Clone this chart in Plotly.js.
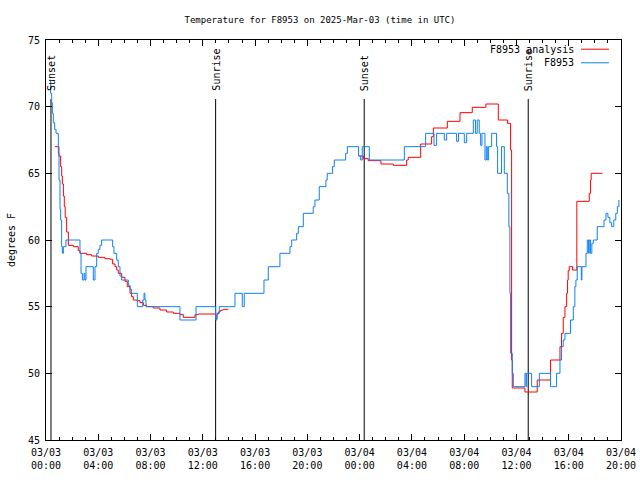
<!DOCTYPE html>
<html>
<head>
<meta charset="utf-8">
<script src="https://cdn.plot.ly/plotly-3.0.1.min.js"></script>
<style>html,body{margin:0;padding:0;background:#fff;}#chart{width:640px;height:480px;}</style>
</head>
<body>
<div id="chart"></div>
<script>
// Hours since 2025-03-03 00:00 UTC
const analysisHours = [0.69,0.99,1.12,1.20,1.25,1.33,1.40,1.47,1.58,1.71,2.09,2.47,2.60,3.11,3.49,4.00,4.51,4.90,5.10,5.28,5.41,5.53,5.79,6.04,6.22,6.43,6.55,6.68,6.94,7.19,7.45,7.70,8.21,8.72,9.23,9.74,10.25,10.51,11.40,11.65,12.98,13.08,13.19,13.31,13.44,13.57,13.95,19.0,23.97,24.28,24.66,25.63,26.58,27.60,27.72,28.67,29.51,29.64,30.71,31.68,32.62,33.66,34.61,35.32,35.55,35.63,35.68,36.65,37.59,38.61,39.33,39.45,39.58,39.71,39.84,39.91,39.96,40.04,40.29,40.62,41.57,41.67,41.72,42.59];
const analysisTemps = [67.0,66.3,65.5,64.8,64.2,63.3,62.5,61.7,60.6,59.6,59.5,59.2,59.0,58.9,58.8,58.7,58.6,58.55,58.2,58.0,57.75,57.5,57.2,56.9,56.5,56.0,55.75,55.5,55.45,55.3,55.1,55.0,54.9,54.75,54.6,54.5,54.4,54.2,54.4,54.45,54.1,54.45,54.6,54.7,54.75,54.8,54.8,null,66.3,66.1,65.95,65.7,65.6,66.0,66.2,67.2,67.75,68.4,68.9,69.55,69.95,70.2,69.0,68.75,66.75,51,48.9,48.6,49.5,51,52,53,54.2,55,56,57,57.7,58,57.75,62.9,63.5,64.5,65,65];

const obsHours = [0.255,0.357,0.434,0.485,0.561,0.663,0.765,0.944,0.995,1.071,1.122,1.199,1.25,1.326,1.53,2.60,2.68,2.78,2.91,2.98,3.06,3.62,3.75,3.88,4.00,4.13,4.26,5.10,5.20,5.41,5.53,5.66,5.79,6.30,6.43,6.55,6.99,7.40,7.50,7.57,7.65,10.25,11.48,12.98,13.08,13.26,14.46,15.02,15.17,16.68,17.01,17.90,18.67,18.80,19.18,19.31,19.69,20.45,20.58,20.91,21.42,21.52,21.93,22.06,22.93,23.06,23.92,24.08,24.20,24.74,27.42,29.05,29.69,29.89,30.48,30.66,31.42,31.57,32.01,32.19,32.70,32.87,33.00,33.15,33.26,33.36,33.59,33.69,33.77,33.87,34.10,34.48,34.56,34.86,35.07,35.30,35.42,35.50,35.55,35.68,35.76,36.65,36.73,36.78,37.16,37.75,38.61,39.07,39.33,39.45,39.58,39.71,40.14,40.35,40.47,40.55,40.65,40.96,41.01,41.32,41.42,41.52,41.57,41.67,41.77,41.88,42.18,42.70,42.85,43.00,43.15,43.28,43.45,43.60,43.72,43.84];
const obsTemps = [72,71,70.3,69.5,68.8,68.3,68,66.5,64.5,62.3,61.5,59.5,59,59.5,60,59,57.5,57,57.5,57,58,57,58,59,59.3,59.6,60,59.5,59,58.5,58,57.3,57,56.6,56.3,56,55,55.5,56,55.5,55,54,55,54,54.5,55,56,55,56,57,58,59,59.5,60,60.5,61,62,62.5,63,64,64.5,65,65.5,66,66.5,67,66.3,66,67,66,67,68,67.1,68,67.5,68,67.4,68,67.3,68,69,68,69,68,67.1,68,66,67,66,67,68,67,65,67,65,63.5,61,56,51.5,50,49,50,49,50,49,50,49,50,51,52,52.5,53,54,55,56.5,57,58,57,58,59,60,59,60,59,59.75,60,61,61.5,62,61.7,61.3,61,61.5,62,62.5,63];

const eventHours = [0.38, 12.98, 24.35, 36.90];
const eventLabels = ['Sunset', 'Sunrise', 'Sunset', 'Sunrise'];

const tickHours = [0,4,8,12,16,20,24,28,32,36,40,44];
const tickLabels = ['03/03<br>00:00','03/03<br>04:00','03/03<br>08:00','03/03<br>12:00','03/03<br>16:00','03/03<br>20:00','03/04<br>00:00','03/04<br>04:00','03/04<br>08:00','03/04<br>12:00','03/04<br>16:00','03/04<br>20:00'];

const seriesNames = ['F8953 analysis', 'F8953'];
const seriesColors = ['#ff0000', '#0f80f5'];

const FONT = 'DejaVu Sans Mono, monospace';

const traces = [
  {x: analysisHours, y: analysisTemps, type: 'scatter', mode: 'lines', name: seriesNames[0],
   line: {color: seriesColors[0], width: 1, shape: 'hv'}, connectgaps: false},
  {x: obsHours, y: obsTemps, type: 'scatter', mode: 'lines', name: seriesNames[1],
   line: {color: seriesColors[1], width: 1, shape: 'hv'}, connectgaps: false}
];

const shapes = [];
const annotations = [];
eventHours.forEach((h, i) => {
  shapes.push({type: 'line', xref: 'x', yref: 'paper', x0: h, x1: h, y0: 0, y1: 0.8525,
    line: {color: '#000', width: 1}, layer: 'below'});
  annotations.push({xref: 'x', yref: 'paper', x: h, y: 0.87, text: eventLabels[i], textangle: -90,
    showarrow: false, xanchor: 'center', yanchor: 'bottom', font: {family: FONT, size: 10, color: '#000'}, borderpad: 0});
});

// legend drawn gnuplot-style: text on the left, sample line on the right
const legendY = [0.977, 0.943];
seriesNames.forEach((n, i) => {
  annotations.push({xref: 'paper', yref: 'paper', x: 0.92, y: legendY[i], text: n, showarrow: false,
    xanchor: 'right', yanchor: 'middle', font: {family: FONT, size: 10, color: '#000'}, borderpad: 0});
  shapes.push({type: 'line', xref: 'paper', yref: 'paper', x0: 0.9304, x1: 0.979, y0: legendY[i], y1: legendY[i],
    line: {color: seriesColors[i], width: 1}});
});

const layout = {
  width: 640, height: 480,
  margin: {l: 46, r: 19, t: 40, b: 40, pad: 0},
  paper_bgcolor: '#fff', plot_bgcolor: '#fff',
  font: {family: FONT, size: 10, color: '#000'},
  showlegend: false,
  title: {text: 'Temperature for F8953 on 2025-Mar-03 (time in UTC)', x: 0.5, xref: 'container', xanchor: 'center',
    y: 0.958, yref: 'container', yanchor: 'middle', font: {family: FONT, size: 9, color: '#000'}},
  xaxis: {range: [0, 44], tickmode: 'array', tickvals: tickHours, ticktext: tickLabels,
    ticks: 'inside', ticklen: 6, tickwidth: 1, tickcolor: '#000', showgrid: false, zeroline: false,
    showline: true, linecolor: '#000', linewidth: 1, mirror: 'ticks', automargin: false,
    ticklabelstandoff: 3,
    minor: {dtick: 1, ticks: 'inside', ticklen: 3, tickcolor: '#000', showgrid: false},
    tickfont: {family: FONT, size: 10, color: '#000'}},
  yaxis: {range: [45, 75], tickmode: 'linear', tick0: 45, dtick: 5,
    ticks: 'inside', ticklen: 6, tickwidth: 1, tickcolor: '#000', showgrid: false, zeroline: false,
    showline: true, linecolor: '#000', linewidth: 1, mirror: 'ticks', automargin: false,
    ticklabelstandoff: 3,
    title: {text: 'degrees F', standoff: 10, font: {family: FONT, size: 10, color: '#000'}},
    tickfont: {family: FONT, size: 10, color: '#000'}},
  shapes: shapes,
  annotations: annotations
};

Plotly.newPlot('chart', traces, layout, {displayModeBar: false, staticPlot: true});
</script>
</body>
</html>
